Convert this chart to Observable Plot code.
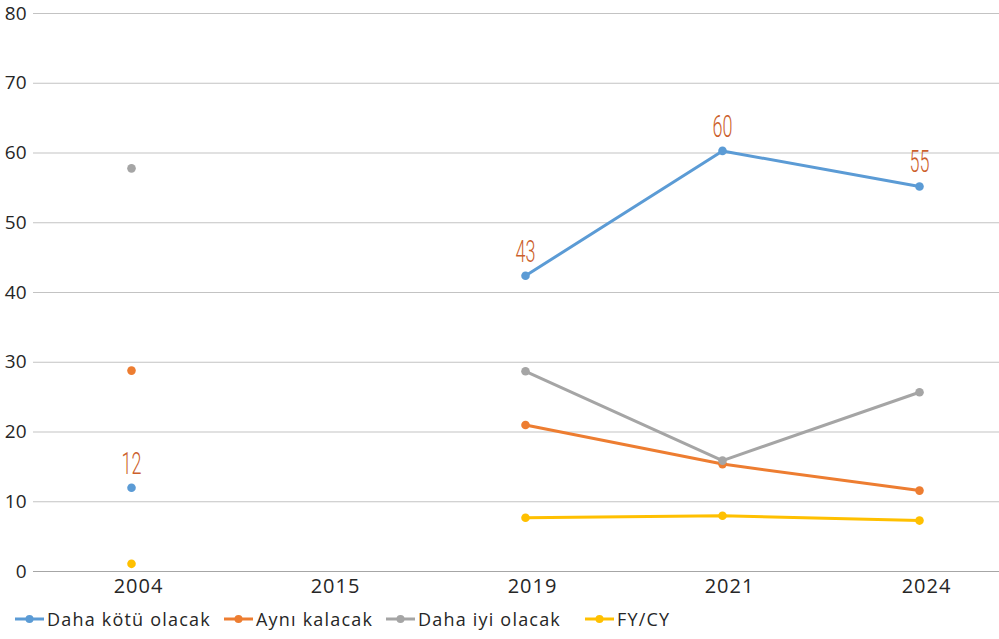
<!DOCTYPE html>
<html>
<head>
<meta charset="utf-8">
<script src="https://cdn.jsdelivr.net/npm/d3@7"></script>
<script src="https://cdn.jsdelivr.net/npm/@observablehq/plot@0.6"></script>
<style>
  html, body { margin: 0; padding: 0; background: #fff; }
  body { width: 999px; height: 639px; overflow: hidden; font-family: "Open Sans", sans-serif; }
  #legend { position: relative; height: 34px; font-size: 18px; color: #262626; letter-spacing: 1.2px; }
  .item { position: absolute; top: 2px; display: flex; align-items: center; white-space: nowrap; }
  .item svg { margin-right: 3px; }
</style>
</head>
<body>
<div id="chart"></div>
<div id="legend"></div>
<script>
const years = ["2004", "2015", "2019", "2021", "2024"];
const seriesNames = ["Daha kötü olacak", "Aynı kalacak", "Daha iyi olacak", "FY/CY"];
const colors = ["#5b9bd5", "#ed7d31", "#a5a5a5", "#ffc000"];
const dahaKotu = [12, null, 42.4, 60.3, 55.2];
const ayniKalacak = [28.8, null, 21.0, 15.4, 11.6];
const dahaIyi = [57.8, null, 28.7, 15.9, 25.7];
const fycy = [1.1, null, 7.7, 8.0, 7.3];
const yTicks = [0, 10, 20, 30, 40, 50, 60, 70, 80];
const labelValues = [12, null, 43, 60, 55];

const allSeries = [dahaKotu, ayniKalacak, dahaIyi, fycy];
const rows = [];
allSeries.forEach((vals, si) => {
  vals.forEach((v, i) => rows.push({series: seriesNames[si], year: years[i], value: v}));
});
const defined = rows.filter(d => d.value != null);
const labels = years.map((y, i) => ({year: y, value: dahaKotu[i], label: labelValues[i]})).filter(d => d.label != null);

const chart = Plot.plot({
  width: 999,
  height: 605,
  marginTop: 13,
  marginBottom: 34,
  marginLeft: 33,
  marginRight: 0,
  style: { fontFamily: "'Open Sans', sans-serif", fontSize: "16px", color: "#262626", background: "#fff" },
  x: { type: "point", domain: years, range: [131, 919], padding: 0, label: null },
  y: { domain: [0, 80], ticks: yTicks, label: null },
  color: { domain: seriesNames, range: colors },
  marks: [
    Plot.ruleY(yTicks.filter(t => t > 0), { stroke: "#c3c3c3", strokeWidth: 1, strokeOpacity: 1 }),
    Plot.ruleY([0], { stroke: "#a6a6a6", strokeWidth: 1.2 }),
    Plot.axisX({ tickSize: 0, tickPadding: 7, fontSize: 20, fill: "#262626", dx: 7, className: "xax" }),
    Plot.axisY({ tickSize: 0, tickPadding: 7, fontSize: 19, fill: "#262626", ticks: yTicks }),
    Plot.line(rows, { x: "year", y: "value", z: "series", stroke: "series", strokeWidth: 3, curve: "linear" }),
    Plot.dot(defined, { x: "year", y: "value", fill: "series", r: 4.3 }),
    Plot.text(labels, { x: "year", y: "value", text: d => String(d.label), dy: -24, fill: "#cc5f2c",
      fontSize: 31, fontFamily: "Roboto, 'DejaVu Sans', sans-serif", fontWeight: 300, className: "vlabels" })
  ]
});
document.getElementById("chart").appendChild(chart);

// condense the data-label glyphs horizontally
d3.select(chart).selectAll(".vlabels text").each(function() {
  const t = d3.select(this).attr("transform") || "";
  d3.select(this).attr("transform", t + " scale(0.58,1)");
});
d3.select(chart).selectAll(".xax text").style("letter-spacing", "1px");

const legend = document.getElementById("legend");
const legendX = [15, 224, 386, 585];
seriesNames.forEach((name, i) => {
  const item = document.createElement("div");
  item.className = "item";
  item.style.left = legendX[i] + "px";
  item.innerHTML = `<svg width="29" height="10"><line x1="0" y1="5" x2="29" y2="5" stroke="${colors[i]}" stroke-width="3"/><circle cx="14.5" cy="5" r="4" fill="${colors[i]}"/></svg><span>${name}</span>`;
  legend.appendChild(item);
});
</script>
</body>
</html>
